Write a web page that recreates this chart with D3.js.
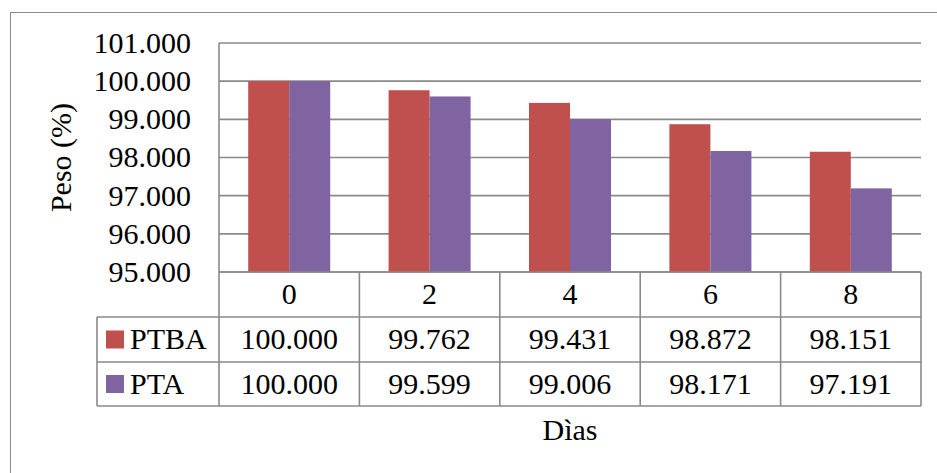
<!DOCTYPE html>
<html><head><meta charset="utf-8">
<script src="https://cdn.jsdelivr.net/npm/d3@7"></script>
<style>body{margin:0;background:#fff}svg{display:block} svg text{font-family:"Liberation Serif" !important;}</style>
</head><body>
<script>
const categories = ["0","2","4","6","8"];
const seriesNames = ["PTBA","PTA"];
const ptba = [100.000, 99.762, 99.431, 98.872, 98.151];
const pta = [100.000, 99.599, 99.006, 98.171, 97.191];
const yTicks = [95,96,97,98,99,100,101];
const colors = ["#C0504D","#8064A2"];
const values = [ptba, pta];

(function(){
const W = 937, H = 473;
const svg = d3.select("body").append("svg").attr("width", W).attr("height", H)
  .attr("font-family","Liberation Serif");
const fs = 30;
const grid = "#8a8a8a";
function txt(sel){ return sel.attr("font-family","Liberation Serif").attr("font-size",fs).attr("fill","#000"); }

// outer border
svg.append("rect").attr("x",10.5).attr("y",12.5).attr("width",W+20).attr("height",H+20)
  .attr("fill","none").attr("stroke","#8a8a8a").attr("stroke-width",1);

const pLeft = 219, pRight = 921, pTop = 43, pBottom = 272;
const x0 = d3.scaleBand().domain(categories).range([pLeft,pRight]).padding(0);
const x1 = d3.scaleBand().domain(seriesNames).range([0,x0.bandwidth()]).paddingInner(0).paddingOuter(0.712);
const y = d3.scaleLinear().domain([95,101]).range([pBottom,pTop]);
const fmt = d3.format(".3f");

// gridlines
svg.append("g").selectAll("line").data(yTicks).join("line")
  .attr("x1",pLeft).attr("x2",pRight).attr("y1",d=>y(d)).attr("y2",d=>y(d))
  .attr("stroke",grid).attr("stroke-width",1.6);

// y tick labels
txt(svg.append("g").selectAll("text").data(yTicks).join("text")
  .attr("x",191).attr("y",d=>y(d)).attr("dy","0.33em").attr("text-anchor","end"))
  .text(d=>fmt(d));

// y axis title
txt(svg.append("text").attr("transform",`translate(61,${(pTop+pBottom)/2}) rotate(-90)`)
  .attr("text-anchor","middle").attr("dy","0.33em")).text("Peso (%)");

// bars
seriesNames.forEach((s,si)=>{
  svg.append("g").selectAll("rect").data(values[si]).join("rect")
    .attr("x",(d,i)=>x0(categories[i])+x1(s))
    .attr("width",x1.bandwidth())
    .attr("y",d=>y(d)).attr("height",d=>y(95)-y(d))
    .attr("fill",colors[si]);
});

// table
const rowTop = pBottom, rowH = [45, 45, 44];
const r1 = rowTop + rowH[0], r2 = r1 + rowH[1], r3 = r2 + rowH[2];
const legLeft = 97;
const tg = svg.append("g");
const hl = [[pLeft,pRight,rowTop],[legLeft,pRight,r1],[legLeft,pRight,r2],[legLeft,pRight,r3]];
tg.selectAll("line.h").data(hl).join("line").attr("class","h")
  .attr("x1",d=>d[0]).attr("x2",d=>d[1]).attr("y1",d=>d[2]).attr("y2",d=>d[2])
  .attr("stroke",grid).attr("stroke-width",1.6);
const vx = categories.map(c=>x0(c)).concat([pRight]);
tg.selectAll("line.v").data(vx).join("line").attr("class","v")
  .attr("x1",d=>d).attr("x2",d=>d).attr("y2",r3)
  .attr("stroke",grid).attr("stroke-width",1.6)
  .attr("y1",(d,i)=>i===0?pTop:rowTop);
tg.append("line").attr("x1",legLeft).attr("x2",legLeft).attr("y1",r1).attr("y2",r3)
  .attr("stroke",grid).attr("stroke-width",1.6);

// header
txt(tg.selectAll("text.c").data(categories).join("text").attr("class","c")
  .attr("x",d=>x0(d)+x0.bandwidth()/2).attr("y",(rowTop+r1)/2).attr("dy","0.33em")
  .attr("text-anchor","middle")).text(d=>d);

const rows = [[r1,r2],[r2,r3]];
seriesNames.forEach((s,si)=>{
  const cy = (rows[si][0]+rows[si][1])/2;
  tg.append("rect").attr("x",106).attr("y",cy-9).attr("width",18).attr("height",18).attr("fill",colors[si]);
  txt(tg.append("text").attr("x",130).attr("y",cy).attr("dy","0.33em")).text(s);
  txt(tg.append("g").selectAll("text").data(values[si]).join("text")
    .attr("x",(d,i)=>x0(categories[i])+x0.bandwidth()/2).attr("y",cy).attr("dy","0.33em")
    .attr("text-anchor","middle")).text(d=>fmt(d));
});

// x axis title
txt(svg.append("text").attr("x",(pLeft+pRight)/2).attr("y",430).attr("dy","0.33em")
  .attr("text-anchor","middle")).text("Dìas");
})();
</script>
</body></html>
